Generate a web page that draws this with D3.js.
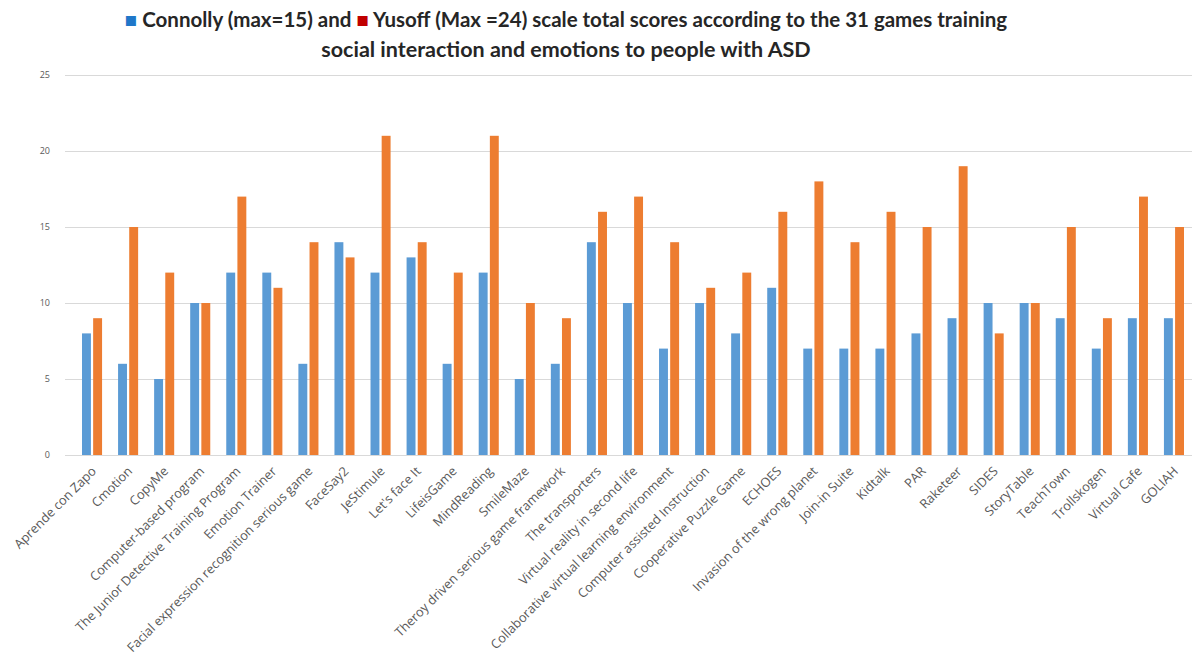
<!DOCTYPE html>
<html>
<head>
<meta charset="utf-8">
<script src="https://cdn.jsdelivr.net/npm/d3@7"></script>
<style>
  body { margin: 0; background: #fff; }
  svg { display: block; }
</style>
</head>
<body>
<div id="chart"></div>
<script>
// games and their scores
var games = [
  "Aprende con Zapo", "Cmotion", "CopyMe", "Computer-based program",
  "The Junior Detective Training Program", "Emotion Trainer",
  "Facial expression recognition serious game", "FaceSay2", "JeStimule",
  "Let's face It", "LifeisGame", "MindReading", "SmileMaze",
  "Theroy driven serious game framework", "The transporters",
  "Virtual reality in second life", "Collaborative virtual learning environment",
  "Computer assisted Instruction", "Cooperative Puzzle Game", "ECHOES",
  "Invasion of the wrong planet", "Join-in Suite", "Kidtalk", "PAR",
  "Raketeer", "SIDES", "StoryTable", "TeachTown", "Trollskogen",
  "Virtual Cafe", "GOLIAH"
];
var connolly = [8, 6, 5, 10, 12, 12, 6, 14, 12, 13, 6, 12, 5, 6, 14, 10, 7, 10, 8, 11, 7, 7, 7, 8, 9, 10, 10, 9, 7, 9, 9];
var yusoff   = [9, 15, 12, 10, 17, 11, 14, 13, 21, 14, 12, 21, 10, 9, 16, 17, 14, 11, 12, 16, 18, 14, 16, 15, 19, 8, 10, 15, 9, 17, 15];
var yTicks = [0, 5, 10, 15, 20, 25];
var seriesKeys = ["connolly", "yusoff"];
var seriesColors = ["#5B9BD5", "#ED7D31"];

var W = 1196, H = 668;
var svg = d3.select("#chart").append("svg").attr("width", W).attr("height", H);

var rows = games.map(function(g, i){ return {name: g, connolly: connolly[i], yusoff: yusoff[i]}; });

var x = d3.scaleBand().domain(games).range([74, 1192]).paddingInner(0).paddingOuter(0);
var x1 = d3.scaleBand().domain(seriesKeys).range([8, x.bandwidth() - 8]).paddingInner(0.2);
var y = d3.scaleLinear().domain([0, 25]).range([455, 75]);

// gridlines
svg.append("g").selectAll("line")
  .data(yTicks)
  .enter().append("line")
    .attr("x1", 65).attr("x2", 1192)
    .attr("y1", function(d){ return y(d) + 0.5; })
    .attr("y2", function(d){ return y(d) + 0.5; })
    .attr("stroke", "#d9d9d9").attr("stroke-width", 1);

// y labels
svg.append("g").selectAll("text")
  .data(yTicks)
  .enter().append("text")
    .attr("x", 50).attr("y", function(d){ return y(d); })
    .attr("dy", "0.35em")
    .attr("text-anchor", "end")
    .attr("font-family", "Open Sans, sans-serif")
    .attr("font-size", 9)
    .attr("fill", "#595959")
    .text(function(d){ return d; });

// bars
var groups = svg.append("g").selectAll("g")
  .data(rows)
  .enter().append("g")
    .attr("transform", function(d){ return "translate(" + x(d.name) + ",0)"; });

groups.selectAll("rect")
  .data(function(d){ return seriesKeys.map(function(k){ return {key: k, value: d[k]}; }); })
  .enter().append("rect")
    .attr("x", function(d){ return x1(d.key); })
    .attr("y", function(d){ return y(d.value); })
    .attr("width", x1.bandwidth())
    .attr("height", function(d){ return y(0) - y(d.value); })
    .attr("fill", function(d, i){ return seriesColors[i]; });

// x labels, rotated
svg.append("g").selectAll("text")
  .data(games)
  .enter().append("text")
    .attr("text-anchor", "end")
    .attr("font-family", "Open Sans, sans-serif")
    .attr("font-size", 12.8)
    .attr("fill", "#595959")
    .attr("transform", function(d){
      var cx = x(d) + x.bandwidth() / 2 + 5;
      return "translate(" + cx + ",472) rotate(-45)";
    })
    .text(function(d){ return d; });

// title with inline legend markers
var titleFont = "Lato, sans-serif";
var t1 = svg.append("text")
  .attr("x", 566).attr("y", 27)
  .attr("text-anchor", "middle")
  .attr("font-family", titleFont)
  .attr("font-weight", "bold")
  .attr("font-size", 20.5)
  .attr("fill", "#262626");
t1.append("tspan").attr("fill", "#1F77C9").text("\u25A0 ");
t1.append("tspan").text("Connolly (max=15) and ");
t1.append("tspan").attr("fill", "#C00000").text("\u25A0 ");
t1.append("tspan").text("Yusoff (Max =24) scale total scores according to the 31 games training");

svg.append("text")
  .attr("x", 566).attr("y", 57)
  .attr("text-anchor", "middle")
  .attr("font-family", titleFont)
  .attr("font-weight", "bold")
  .attr("font-size", 21.5)
  .attr("fill", "#262626")
  .text("social interaction and emotions to people with ASD");
</script>
</body>
</html>
